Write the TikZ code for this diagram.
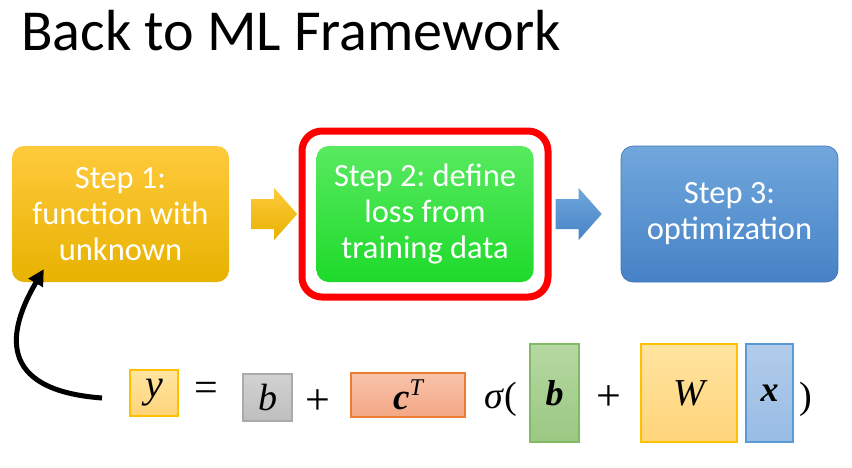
\documentclass[tikz,border=0pt]{standalone}
\usepackage{fontspec}
\setmainfont{Carlito}
\newfontfamily\eqfont{Liberation Serif}
\usetikzlibrary{arrows.meta, calc}
\frenchspacing
\definecolor{goldtop}{RGB}{255, 202, 60}
\definecolor{goldbot}{RGB}{231, 178, 0}
\definecolor{greentop}{RGB}{88, 234, 96}
\definecolor{greenbot}{RGB}{30, 218, 42}
\definecolor{bluetop}{RGB}{112, 167, 220}
\definecolor{bluebot}{RGB}{70, 130, 198}
\definecolor{blueedge}{RGB}{65, 115, 180}
\definecolor{framered}{RGB}{255, 0, 0}
\definecolor{ytop}{RGB}{255, 228, 160}
\definecolor{ybot}{RGB}{255, 212, 122}
\definecolor{yedge}{RGB}{255, 192, 0}
\definecolor{graytop}{RGB}{210, 210, 210}
\definecolor{graybot}{RGB}{190, 190, 190}
\definecolor{grayedge}{RGB}{170, 170, 170}
\definecolor{salmontop}{RGB}{248, 195, 170}
\definecolor{salmonbot}{RGB}{243, 167, 133}
\definecolor{salmonedge}{RGB}{237, 125, 49}
\definecolor{leaftop}{RGB}{182, 216, 162}
\definecolor{leafbot}{RGB}{154, 200, 130}
\definecolor{leafedge}{RGB}{130, 185, 100}
\definecolor{skytop}{RGB}{178, 204, 235}
\definecolor{skybot}{RGB}{152, 188, 228}
\definecolor{skyedge}{RGB}{91, 155, 213}

\begin{document}
\begin{tikzpicture}[x=1pt, y=-1pt,
  stepbox/.style={rounded corners=12pt, minimum width=217pt, minimum height=136pt,
    inner sep=0pt, text=white, align=center, font=\fontsize{32.5}{36}\selectfont},
  termbox/.style={draw, line width=1.3pt, inner sep=0pt, font=\eqfont\itshape\fontsize{#1}{#1}\selectfont},
  opsign/.style={inner sep=0pt, font=\eqfont\fontsize{#1}{#1}\selectfont}]
  \useasboundingbox (0,0) rectangle (852,467);
  % Title
  \node[anchor=base west, inner sep=0pt, font=\fontsize{58}{60}\selectfont] (title) at (21,50) {Back to ML Framework};
  % The three steps
  \node[stepbox, top color=goldtop, bottom color=goldbot] (box1) at (120.5,214) {Step 1:\\function with\\unknown};
  \node[stepbox, top color=greentop, bottom color=greenbot] (box2) at (425,214) {Step 2: define\\loss from\\training data};
  \node[stepbox, top color=bluetop, bottom color=bluebot, draw=blueedge, line width=0.6pt] (box3) at (729.5,214) {Step 3:\\optimization};
  % Highlight round step 2
  \node[draw=framered, line width=7pt, rounded corners=20pt, minimum width=246pt, minimum height=166pt] (frame) at (box2) {};
  % Block arrows between steps
  \foreach \from/\tc/\bc in {box1/goldtop/goldbot, box2/bluetop/bluebot} {
    \shade[top color=\tc, bottom color=\bc] ($(\from.east)+(22,-15)$) -- ++(23,0) -- ++(0,-11) -- ++(23,26) -- ++(-23,26) -- ++(0,-11) -- ++(-23,0) -- cycle;
  }
  % The function, term by term
  \node[termbox=40, draw=yedge, top color=ytop, bottom color=ybot, minimum width=48pt, minimum height=46pt] (yterm) at (154,393) {y};
  \node[opsign=42] (eq) at (206,392) {=};
  \node[termbox=38, draw=grayedge, top color=graytop, bottom color=graybot, minimum width=49pt, minimum height=47pt] (bterm) at (267.5,397.5) {b};
  \node[opsign=44] (plus1) at (318,402) {+};
  \node[termbox=37, draw=salmonedge, top color=salmontop, bottom color=salmonbot, minimum width=114pt, minimum height=44pt] (cterm) at (408,395) {\bfseries c\raisebox{14pt}{\mdseries\fontsize{24}{24}\selectfont T}};
  \node[opsign=38] (sig) at (501,399) {\itshape σ\kern1pt\upshape(};
  \node[termbox=36, draw=leafedge, top color=leaftop, bottom color=leafbot, minimum width=49pt, minimum height=98pt] (bvec) at (554.5,393) {\bfseries b};
  \node[opsign=44] (plus2) at (609,398) {+};
  \node[termbox=38, draw=yedge, top color=ytop, bottom color=ybot, minimum width=96pt, minimum height=98pt] (wmat) at (689,393) {W};
  \node[termbox=36, draw=skyedge, top color=skytop, bottom color=skybot, minimum width=47pt, minimum height=98pt] (xvec) at (769.5,393) {\bfseries x};
  \node[opsign=38] (close) at (806,399) {)};
  % Back to step 1
  \coordinate (eqtail) at (102,398);
  \draw[line width=5pt, -{Triangle[length=16pt, width=16pt]}] (eqtail) .. controls (-5,390) and (8,330) .. ($(box1.south west)+(32,-13)$);
\end{tikzpicture}
\end{document}
